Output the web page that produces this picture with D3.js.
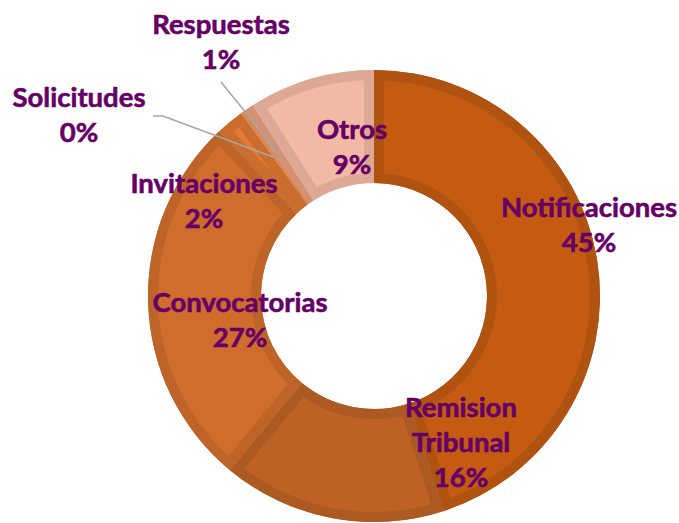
<!DOCTYPE html>
<html><head><meta charset="utf-8">
<script src="https://cdn.jsdelivr.net/npm/d3@7"></script>
<style>html,body{margin:0;padding:0;background:#fff;}svg{display:block;}</style>
</head><body>
<svg id="c" width="679" height="523"></svg>
<script>
const categories = ["Notificaciones","Remision Tribunal","Convocatorias","Invitaciones","Solicitudes","Respuestas","Otros"];
const values = [45, 16, 27, 2, 0.3, 0.7, 9];

// layout / style (not data)
const fills   = ["#C55A11","#BD6125","#D06C2C","#E47A34","#F29A60","#E5A07F","#F2BAA5"];
const borders = ["#B05210","#AC5922","#BE6428","#CB6D2E","#D8895A","#D39176","#DDA894"];
const labelLines = [["Notificaciones"],["Remision","Tribunal"],["Convocatorias"],["Invitaciones"],["Solicitudes"],["Respuestas"],["Otros"]];
const labelPos = [[589,217],[461,417],[240,312],[204,193],[79,107],[221,34],[352,139]];
const leaders = {4: [[153,116],[163,116]], 5: [[221,82]]};

const cx = 374, cy = 296, rO = 226, rI = 113, lineH = 35;
const svg = d3.select("#c");
const g = svg.append("g").attr("transform", `translate(${cx},${cy})`);
const total = d3.sum(values);
const pie = d3.pie().sort(null).value(d => d)(values);
const arc = d3.arc().innerRadius(rI).outerRadius(rO);
const midArc = d3.arc().innerRadius((rI+rO)/2).outerRadius((rI+rO)/2);

const defs = svg.append("defs");
pie.forEach((p,i) => {
  defs.append("clipPath").attr("id","cl"+i).append("path").attr("d", arc(p));
});
const slices = g.selectAll("g.s").data(pie).join("g").attr("class","s");
slices.append("path").attr("d", arc).attr("fill", (d,i)=>fills[i]);
slices.append("path").attr("d", arc).attr("fill","none")
  .attr("stroke",(d,i)=>borders[i]).attr("stroke-width",20)
  .attr("clip-path",(d,i)=>`url(#cl${i})`);

// leader lines
Object.keys(leaders).forEach(k => {
  const i = +k;
  const c = midArc.centroid(pie[i]);
  const pts = leaders[k].concat([[c[0]+cx, c[1]+cy]]);
  svg.append("path").attr("d", d3.line()(pts)).attr("fill","none")
    .attr("stroke","#A6A6A6").attr("stroke-width",1.5);
});

// labels
const font = "Lato, 'Open Sans', sans-serif";
pie.forEach((p,i) => {
  const lines = labelLines[i].concat([Math.round(values[i]/total*100) + "%"]);
  const t = svg.append("text").attr("text-anchor","middle")
    .attr("font-family", font).attr("font-weight","bold").attr("font-size", 27.5)
    .attr("fill","#660066").attr("stroke","#660066").attr("stroke-width",0.6);
  lines.forEach((s,j) => {
    t.append("tspan").attr("x", labelPos[i][0]).attr("y", labelPos[i][1] + j*lineH).text(s);
  });
});
</script>
</body></html>
